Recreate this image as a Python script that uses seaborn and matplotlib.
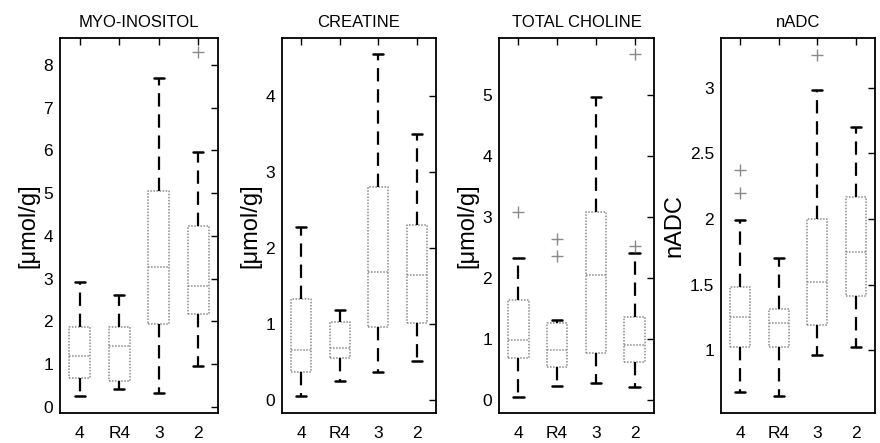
import numpy as np
import pandas as pd
import matplotlib
matplotlib.use("Agg")
import matplotlib.pyplot as plt
import seaborn as sns

sns.set_theme(style="white")
plt.rcParams['font.family'] = ['Liberation Sans', 'DejaVu Sans']
plt.rcParams['text.color'] = 'black'
plt.rcParams['axes.labelcolor'] = 'black'

groups = ["4", "R4", "3", "2"]
titles = ["MYO-INOSITOL", "CREATINE", "TOTAL CHOLINE", "nADC"]
ylabels = ["[\u03bcmol/g]", "[\u03bcmol/g]", "[\u03bcmol/g]", "nADC"]

# five-number summaries per group: lower whisker, Q1, median, Q3, upper whisker
myo_stats = [[0.25, 0.68, 1.20, 1.87, 2.93],
             [0.43, 0.60, 1.42, 1.87, 2.62],
             [0.32, 1.93, 3.27, 5.05, 7.70],
             [0.95, 2.18, 2.83, 4.23, 5.97]]
cre_stats = [[0.06, 0.37, 0.66, 1.33, 2.27],
             [0.25, 0.55, 0.69, 1.03, 1.18],
             [0.37, 0.96, 1.68, 2.80, 4.55],
             [0.51, 1.01, 1.64, 2.30, 3.50]]
cho_stats = [[0.05, 0.70, 0.98, 1.65, 2.33],
             [0.24, 0.55, 0.83, 1.27, 1.32],
             [0.29, 0.77, 2.06, 3.08, 4.98],
             [0.21, 0.62, 0.90, 1.37, 2.41]]
adc_stats = [[0.68, 1.02, 1.25, 1.48, 1.99],
             [0.65, 1.02, 1.21, 1.31, 1.70],
             [0.96, 1.19, 1.52, 2.00, 2.98],
             [1.02, 1.41, 1.75, 2.17, 2.70]]

# outliers: (group, value)
myo_out = [("2", 8.30)]
cre_out = []
cho_out = [("4", 3.08), ("R4", 2.65), ("R4", 2.37), ("2", 5.67), ("2", 2.53)]
adc_out = [("4", 2.37), ("4", 2.20), ("3", 3.25)]

ylims = [(-0.14, 8.63), (-0.17, 4.76), (-0.21, 5.94), (0.52, 3.38)]
yticks = [np.arange(0, 9, 1), np.arange(0, 5, 1), np.arange(0, 6, 1),
          [1, 1.5, 2, 2.5, 3]]
yticklabels = [None, None, None, ["1", "1.5", "2", "2.5", "3"]]

all_stats = [myo_stats, cre_stats, cho_stats, adc_stats]
all_out = [myo_out, cre_out, cho_out, adc_out]

fig = plt.figure(figsize=(8.8, 4.43), dpi=100)
W, H = 880, 443
boxes_px = [(60, 218), (282, 436), (499, 654), (721, 875)]
top_px, bot_px = 38, 413

gray = "#8a8a8a"
for i in range(4):
    l, r = boxes_px[i]
    ax = fig.add_axes([l / W, (H - bot_px) / H, (r - l) / W, (bot_px - top_px) / H])
    rows = []
    for g, st in zip(groups, all_stats[i]):
        for v in st:
            rows.append((g, v))
    df = pd.DataFrame(rows, columns=["group", "value"])
    sns.boxplot(data=df, x="group", y="value", order=groups, whis=(0, 100),
                showfliers=False, width=0.53, ax=ax, fill=False, color=gray,
                boxprops=dict(color=gray, linestyle=(0, (1, 1)), linewidth=1.1),
                medianprops=dict(color=gray, linestyle=(0, (1, 1)), linewidth=1.1),
                whiskerprops=dict(color="black", linestyle=(0, (6, 3.5)), linewidth=1.6),
                capprops=dict(color="black", linestyle="-", linewidth=1.8))
    if all_out[i]:
        odf = pd.DataFrame(all_out[i], columns=["group", "value"])
        sns.stripplot(data=odf, x="group", y="value", order=groups, jitter=False,
                      marker="+", color=gray, size=8, linewidth=1.0, ax=ax)
    ax.set_xlim(-0.5, 3.5)
    ax.set_ylim(*ylims[i])
    ax.set_yticks(yticks[i])
    if yticklabels[i] is not None:
        ax.set_yticklabels(yticklabels[i])
    ax.set_xlabel("")
    ax.set_ylabel(ylabels[i], fontsize=17, labelpad=3, color="black")
    ax.set_title(titles[i], fontsize=12, pad=8, color="black")
    ax.tick_params(axis="both", direction="in", length=5, width=1.0,
                   top=True, right=True, labelsize=12.5, colors="black")
    ax.tick_params(axis="x", pad=9)
    ax.tick_params(axis="y", pad=5)
    for sp in ax.spines.values():
        sp.set_color("black")
        sp.set_linewidth(1.3)

fig.savefig("out.png", dpi=100, facecolor="white")
